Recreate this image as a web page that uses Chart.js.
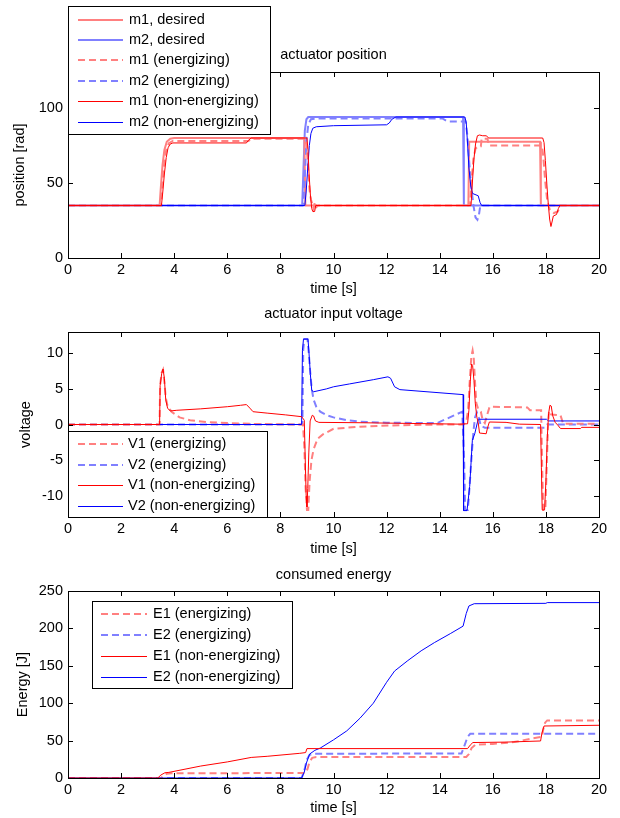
<!DOCTYPE html>
<html>
<head>
<meta charset="utf-8">
<title>actuator runs</title>
<script src="https://cdn.jsdelivr.net/npm/chart.js@4.4.0/dist/chart.umd.min.js"></script>
<style>
  body { margin: 0; background: #fff; }
  canvas { position: absolute; left: 0; }
</style>
</head>
<body>
<canvas id="posChart" width="620" height="300" style="top:0px"></canvas>
<canvas id="voltChart" width="620" height="260" style="top:300px"></canvas>
<canvas id="energyChart" width="620" height="258" style="top:560px"></canvas>
<script>
// time axis, shared by all three plots
const timeTicks = [0, 2, 4, 6, 8, 10, 12, 14, 16, 18, 20];
const posTicks = [0, 50, 100];
const voltTicks = [-10, -5, 0, 5, 10];
const energyTicks = [0, 50, 100, 150, 200, 250];

// actuator position [rad], pairs of [t, value]
const m1Desired = [[0,35],[3.45,35],[3.5,48],[3.56,62],[3.63,72],[3.72,77.5],[3.85,79.5],[4,80],[8.9,80],[8.94,35],[15.08,35],[15.11,77.5],[17.78,77.5],[17.81,35],[20,35]];
const m2Desired = [[0,35],[8.82,35],[8.87,60],[8.92,85],[8.98,92.5],[9.05,94],[14.88,94],[14.91,35],[20,35]];
const m1Energizing = [[0,35],[3.5,35],[3.56,50],[3.63,64],[3.7,72],[3.8,76.5],[3.95,78],[6.8,78],[6.9,79.5],[8.95,79.5],[9.0,72],[9.05,58],[9.1,45],[9.15,39],[9.2,36],[9.25,33],[9.3,37.5],[9.36,34],[9.42,35],[15.14,35],[15.2,52],[15.27,66],[15.35,73],[15.45,74.5],[15.55,74.5],[15.58,79.5],[15.8,79.5],[15.85,75],[17.85,75],[17.9,68],[17.97,52],[18.05,38],[18.15,32],[18.3,30],[18.45,31],[18.55,35],[20,35]];
const m2Energizing = [[0,35],[8.86,35],[8.92,55],[8.98,78],[9.05,89],[9.15,92.5],[9.4,93],[14.1,93],[14.3,91],[14.98,91],[15.04,82],[15.12,62],[15.2,45],[15.28,34],[15.35,27],[15.42,25.5],[15.48,29],[15.53,35],[20,35]];
const m1NonEnergizing = [[0,35],[3.52,35],[3.57,44],[3.63,56],[3.7,67],[3.77,73.5],[3.85,76],[3.95,76.7],[6.72,76.7],[6.8,78.5],[6.9,80],[9.0,80],[9.04,72],[9.08,56],[9.13,42],[9.18,33],[9.22,31],[9.29,31],[9.33,35],[15.18,35],[15.23,50],[15.29,66],[15.35,76],[15.42,81.5],[15.5,82],[15.62,81.5],[15.75,81.5],[15.85,80],[17.88,80],[17.93,77],[17.98,65],[18.04,48],[18.09,36],[18.14,26],[18.19,21],[18.23,24],[18.28,28],[18.4,29],[18.47,33],[18.53,35],[20,35]];
const m2NonEnergizing = [[0,35],[8.92,35],[8.97,44],[9.03,60],[9.09,75],[9.15,83],[9.22,86.5],[9.35,87.5],[10,88.2],[12,88.8],[12.1,90],[12.2,92.5],[12.35,94],[14.95,94],[15.0,90],[15.05,76],[15.1,60],[15.17,48],[15.24,43],[15.45,41.5],[15.52,37],[15.58,35],[20,35]];

// actuator input voltage
const v1Energizing = [[0,0],[3.45,0],[3.47,5.5],[3.53,7.3],[3.58,7.7],[3.63,6],[3.68,3.8],[3.75,2.6],[3.9,1.8],[4.2,1.0],[4.6,0.6],[5.2,0.35],[6,0.2],[7,0.08],[8.85,0],[8.9,-3],[8.95,-9],[9.0,-12],[9.05,-12],[9.1,-8],[9.17,-5],[9.25,-3.5],[9.4,-2],[9.6,-1.4],[10,-0.6],[11,-0.3],[12.5,-0.1],[14,0],[14.9,0],[15.0,0.4],[15.07,2],[15.13,6],[15.19,9.5],[15.24,10.4],[15.28,9.5],[15.33,6],[15.38,3],[15.45,2.2],[15.55,1.8],[15.62,0.6],[15.7,0.2],[15.8,1.5],[15.88,2.5],[17.3,2.4],[17.4,2.0],[17.82,2.0],[17.86,-6],[17.9,-12],[17.98,-12],[18.03,-6],[18.08,0],[18.12,1.9],[18.2,1.4],[18.55,1.3],[18.65,0.1],[20,0.1]];
const v2Energizing = [[0,0],[8.83,0],[8.86,10.5],[8.9,12],[9.02,12],[9.07,10],[9.12,7.5],[9.18,5],[9.25,3.5],[9.35,2.5],[9.5,1.8],[9.75,1.3],[10,1.0],[10.5,0.6],[11,0.4],[12,0.25],[13.9,0.2],[14.2,0.7],[14.5,1.2],[14.85,1.8],[14.92,-5],[14.96,-12],[15.06,-12],[15.12,-9],[15.2,-4.5],[15.27,-1],[15.33,1],[15.4,1.7],[15.47,1],[15.55,-0.2],[15.7,-0.45],[17.95,-0.45],[18.05,0],[20,0]];
const v1NonEnergizing = [[0,0],[3.45,0],[3.47,5.5],[3.53,7.2],[3.58,7.8],[3.63,6.5],[3.68,3.5],[3.75,2.3],[3.85,1.9],[4.1,2.0],[5,2.2],[6,2.5],[6.5,2.7],[6.72,2.8],[6.85,2.3],[6.97,1.8],[7.5,1.6],[8.2,1.35],[8.8,1.1],[8.9,0.6],[8.93,-4],[8.97,-10],[9.0,-11.6],[9.03,-9],[9.07,-4],[9.12,0.5],[9.2,1.3],[9.25,1.2],[9.32,0.5],[9.45,0.3],[11,0.25],[14.75,0.05],[15.05,0.1],[15.1,2],[15.15,6],[15.2,8.5],[15.24,8.3],[15.29,6.2],[15.34,3],[15.4,1],[15.45,0.3],[15.5,-1.2],[15.75,-1.3],[15.8,-0.5],[15.87,0.35],[16.5,0.3],[17,0.05],[17.8,0],[17.83,-6],[17.86,-12],[17.95,-12],[18.0,-8],[18.05,-2],[18.1,1.5],[18.15,2.7],[18.2,2.6],[18.26,1.2],[18.35,0.3],[18.45,-0.1],[18.55,-0.57],[19.3,-0.57],[19.35,-0.4],[20,-0.4]];
const v2NonEnergizing = [[0,0],[8.8,0],[8.83,10.4],[8.87,12],[9.04,12],[9.08,9.9],[9.13,7],[9.18,4.8],[9.25,4.6],[9.73,5.0],[10,5.3],[10.6,5.7],[11.5,6.3],[12.05,6.7],[12.15,6.5],[12.3,5.3],[12.5,4.9],[14.88,4.2],[14.9,-12.1],[15.03,-12.1],[15.13,-8.7],[15.23,-2.2],[15.32,-1.3],[15.44,0.6],[15.5,0.74],[18.02,0.74],[18.1,0.5],[20,0.5]];

// consumed energy [J]
const e1Energizing = [[0,0],[3.5,0],[3.6,3],[3.72,5.8],[3.9,6.3],[8.95,6.7],[9.02,12],[9.1,22],[9.2,27],[9.35,28],[15.0,28.1],[15.1,32],[15.2,40],[15.35,44.5],[16,45.5],[16.8,48],[17.5,53],[17.85,55],[17.9,65],[17.97,74],[18.05,77],[20,77]];
const e2Energizing = [[0,0],[8.8,0],[8.9,10],[9.0,25],[9.1,31],[9.3,32.5],[14.82,32.7],[14.95,45],[15.05,55],[15.15,59],[20,59]];
const e1NonEnergizing = [[0,0],[3.38,0],[3.5,4],[3.65,7],[3.8,7.5],[5,16],[6,21.5],[6.9,27.5],[7.5,29],[8.73,33],[8.95,34],[9.0,39.3],[15.05,39.3],[15.15,44],[15.25,47.4],[16.5,48],[17.8,49.5],[17.85,60],[17.93,69.5],[20,70.5]];
const e2NonEnergizing = [[0,0],[8.8,0],[8.9,8],[8.98,20],[9.1,32],[9.3,37],[9.5,40],[10,51],[10.5,63],[11,80],[11.5,100],[12,128],[12.3,143],[12.8,157],[13.3,170],[13.8,181],[14.4,193],[14.88,203],[15.0,220],[15.1,230],[15.3,233],[18,233.5],[18.05,234.5],[20,234.5]];

const RED = '#ff0000';
const BLUE = '#0000ff';
const LIGHT_RED = '#ff8080';
const LIGHT_BLUE = '#8080ff';

Chart.defaults.font.family = '"Liberation Sans", Arial, sans-serif';
Chart.defaults.font.size = 14.5;
Chart.defaults.color = '#000';

function pts(arr) {
  return arr.map(([x, y]) => ({ x: x, y: y }));
}

function desired(label, data, color) {
  return { label, data: pts(data), borderColor: color, borderWidth: 2, order: 3 };
}
function energizing(label, data, color) {
  return { label, data: pts(data), borderColor: color, borderWidth: 2, borderDash: [7, 4], order: 2 };
}
function nonEnergizing(label, data, color) {
  return { label, data: pts(data), borderColor: color, borderWidth: 1, order: 1 };
}

// matlab style box round the axes, with ticks pointing inwards on all sides
const axesBox = {
  id: 'axesBox',
  afterDatasetsDraw(chart) {
    const { ctx, chartArea: a, scales: { x, y } } = chart;
    const tl = 5;
    ctx.save();
    ctx.strokeStyle = '#000';
    ctx.lineWidth = 1;
    ctx.beginPath();
    x.ticks.forEach(t => {
      const px = Math.round(x.getPixelForValue(t.value)) + 0.5;
      ctx.moveTo(px, a.bottom); ctx.lineTo(px, a.bottom - tl);
      ctx.moveTo(px, a.top); ctx.lineTo(px, a.top + tl);
    });
    y.ticks.forEach(t => {
      const py = Math.round(y.getPixelForValue(t.value)) + 0.5;
      ctx.moveTo(a.left, py); ctx.lineTo(a.left + tl, py);
      ctx.moveTo(a.right, py); ctx.lineTo(a.right - tl, py);
    });
    ctx.stroke();
    ctx.strokeRect(a.left + 0.5, a.top + 0.5, a.right - a.left, a.bottom - a.top);
    ctx.restore();
  }
};

// boxed legend drawn over the plot
const boxLegend = {
  id: 'boxLegend',
  afterDraw(chart, args, o) {
    const ctx = chart.ctx;
    ctx.save();
    ctx.fillStyle = '#fff';
    ctx.fillRect(o.left, o.top, o.width, o.height);
    ctx.strokeStyle = '#000';
    ctx.lineWidth = 1;
    ctx.strokeRect(o.left + 0.5, o.top + 0.5, o.width, o.height);
    ctx.font = Chart.helpers.toFont(Chart.defaults.font).string;
    ctx.textBaseline = 'middle';
    ctx.textAlign = 'left';
    chart.data.datasets.forEach((ds, i) => {
      const y = o.firstRow + i * o.rowStep;
      const ly = Math.round(y) + (ds.borderWidth % 2 ? 0.5 : 0);
      ctx.strokeStyle = ds.borderColor;
      ctx.lineWidth = ds.borderWidth;
      ctx.setLineDash(ds.borderDash || []);
      ctx.beginPath();
      ctx.moveTo(o.lineX, ly);
      ctx.lineTo(o.lineX + o.lineLen, ly);
      ctx.stroke();
      ctx.setLineDash([]);
      ctx.fillStyle = '#000';
      ctx.fillText(ds.label, o.textX, y);
    });
    ctx.restore();
  }
};

function makeChart(id, cfg) {
  return new Chart(document.getElementById(id), {
    type: 'line',
    data: { datasets: cfg.datasets },
    plugins: [axesBox, boxLegend],
    options: {
      responsive: false,
      animation: false,
      devicePixelRatio: 1,
      parsing: true,
      elements: { point: { radius: 0 }, line: { tension: 0, fill: false } },
      layout: { padding: { left: 0, right: 21, top: cfg.padTop, bottom: 0 } },
      plugins: {
        legend: { display: false },
        tooltip: { enabled: false },
        title: {
          display: true,
          text: cfg.title,
          fullSize: false,
          font: { weight: 'normal' },
          padding: { top: 0, bottom: cfg.titleGap }
        },
        boxLegend: cfg.legend
      },
      scales: {
        x: {
          type: 'linear',
          min: 0,
          max: 20,
          grid: { display: false, drawTicks: false },
          border: { display: false },
          afterBuildTicks: s => { s.ticks = timeTicks.map(v => ({ value: v })); },
          afterFit: s => { s.height = cfg.xHeight; },
          ticks: { padding: 2.8, maxRotation: 0, autoSkip: false, callback: v => String(v) },
          title: { display: true, text: 'time [s]', padding: { top: 0, bottom: cfg.xTitleGap } }
        },
        y: {
          type: 'linear',
          min: cfg.yMin,
          max: cfg.yMax,
          grid: { display: false, drawTicks: false },
          border: { display: false },
          afterBuildTicks: s => { s.ticks = cfg.yTicks.map(v => ({ value: v })); },
          afterFit: s => { s.width = 68; },
          ticks: { padding: 5, autoSkip: false, callback: v => String(v) },
          title: { display: true, text: cfg.yTitle, padding: { top: cfg.yTitlePad, bottom: 0 } }
        }
      }
    }
  });
}

makeChart('posChart', {
  title: 'actuator position',
  yTitle: 'position [rad]',
  yMin: 0, yMax: 124, yTicks: posTicks,
  padTop: 46, titleGap: 8.6, xHeight: 42, xTitleGap: 2, yTitlePad: 11.3,
  datasets: [
    desired('m1, desired', m1Desired, LIGHT_RED),
    desired('m2, desired', m2Desired, LIGHT_BLUE),
    energizing('m1 (energizing)', m1Energizing, LIGHT_RED),
    energizing('m2 (energizing)', m2Energizing, LIGHT_BLUE),
    nonEnergizing('m1 (non-energizing)', m1NonEnergizing, RED),
    nonEnergizing('m2 (non-energizing)', m2NonEnergizing, BLUE)
  ],
  legend: { left: 68, top: 6, width: 202, height: 128, firstRow: 19.5, rowStep: 20.45, lineX: 78, lineLen: 45, textX: 129 }
});

makeChart('voltChart', {
  title: 'actuator input voltage',
  yTitle: 'voltage',
  yMin: -13, yMax: 13, yTicks: voltTicks,
  padTop: 5.3, titleGap: 9.3, xHeight: 43, xTitleGap: 2, yTitlePad: 17.3,
  datasets: [
    energizing('V1 (energizing)', v1Energizing, LIGHT_RED),
    energizing('V2 (energizing)', v2Energizing, LIGHT_BLUE),
    nonEnergizing('V1 (non-energizing)', v1NonEnergizing, RED),
    nonEnergizing('V2 (non-energizing)', v2NonEnergizing, BLUE)
  ],
  legend: { left: 68, top: 131, width: 199, height: 86, firstRow: 144, rowStep: 20.6, lineX: 78, lineLen: 45, textX: 128 }
});

makeChart('energyChart', {
  title: 'consumed energy',
  yTitle: 'Energy [J]',
  yMin: 0, yMax: 250, yTicks: energyTicks,
  padTop: 6.3, titleGap: 7.3, xHeight: 40, xTitleGap: 1.8, yTitlePad: 13.8,
  datasets: [
    energizing('E1 (energizing)', e1Energizing, LIGHT_RED),
    energizing('E2 (energizing)', e2Energizing, LIGHT_BLUE),
    nonEnergizing('E1 (non-energizing)', e1NonEnergizing, RED),
    nonEnergizing('E2 (non-energizing)', e2NonEnergizing, BLUE)
  ],
  legend: { left: 92, top: 41, width: 200, height: 87, firstRow: 54, rowStep: 20.9, lineX: 101, lineLen: 46, textX: 153 }
});
</script>
</body>
</html>
